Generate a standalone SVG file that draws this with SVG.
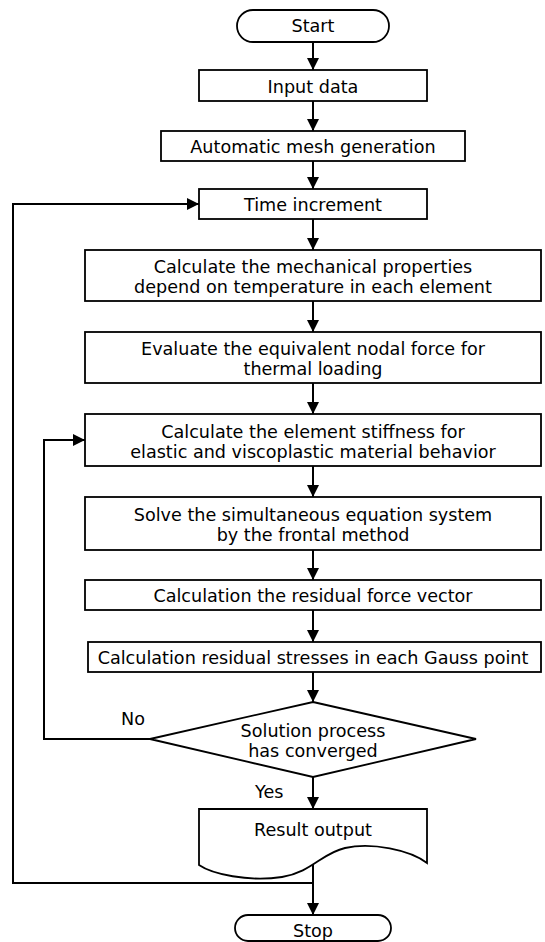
<svg xmlns="http://www.w3.org/2000/svg" width="545" height="942" viewBox="0 0 545 942">
<style>
.n{fill:#fff;stroke:#000;stroke-width:1.8}
.t{font-family:"DejaVu Sans","Liberation Sans",sans-serif;font-size:17.6px;fill:#000;text-anchor:middle}
.l{font-family:"DejaVu Sans","Liberation Sans",sans-serif;font-size:17.6px;fill:#000}
.c{fill:none;stroke:#000;stroke-width:2}
</style>
<defs>
<marker id="ah" markerUnits="userSpaceOnUse" markerWidth="12" markerHeight="12" refX="12" refY="6" orient="auto">
<path d="M0,0 L12,6 L0,12 z" fill="#000"/>
</marker>
</defs>
<rect width="545" height="942" fill="#fff"/>
<g id="connectors">
<line class="c" x1="313" y1="42" x2="313" y2="70" marker-end="url(#ah)"/>
<line class="c" x1="313" y1="101" x2="313" y2="131" marker-end="url(#ah)"/>
<line class="c" x1="313" y1="161" x2="313" y2="189" marker-end="url(#ah)"/>
<line class="c" x1="313" y1="219" x2="313" y2="250" marker-end="url(#ah)"/>
<line class="c" x1="313" y1="301" x2="313" y2="332" marker-end="url(#ah)"/>
<line class="c" x1="313" y1="383" x2="313" y2="414" marker-end="url(#ah)"/>
<line class="c" x1="313" y1="466" x2="313" y2="497" marker-end="url(#ah)"/>
<line class="c" x1="313" y1="550" x2="313" y2="580" marker-end="url(#ah)"/>
<line class="c" x1="313" y1="610" x2="313" y2="642" marker-end="url(#ah)"/>
<line class="c" x1="313" y1="672" x2="313" y2="702" marker-end="url(#ah)"/>
<line class="c" x1="313" y1="777" x2="313" y2="809" marker-end="url(#ah)"/>
<polyline class="c" points="150,739 44,739 44,440 85,440" marker-end="url(#ah)"/>
<line class="c" x1="313" y1="862" x2="313" y2="915" marker-end="url(#ah)"/>
<polyline class="c" points="313,883 13,883 13,204 199,204" marker-end="url(#ah)"/>
<text class="l" x="121" y="725">No</text>
<text class="l" x="255" y="798">Yes</text>
</g>
<g id="start">
<rect class="n" x="237" y="10" width="152" height="32" rx="16"/>
<text class="t" x="313" y="32">Start</text>
</g>
<g id="input">
<rect class="n" x="199" y="70" width="228" height="31"/>
<text class="t" x="313" y="93">Input data</text>
</g>
<g id="mesh">
<rect class="n" x="161" y="131" width="304" height="30"/>
<text class="t" x="313" y="153">Automatic mesh generation</text>
</g>
<g id="time">
<rect class="n" x="199" y="189" width="228" height="30"/>
<text class="t" x="313" y="211">Time increment</text>
</g>
<g id="mech">
<rect class="n" x="85" y="250" width="456" height="51"/>
<text class="t" x="313" y="273">Calculate the mechanical properties</text>
<text class="t" x="313" y="293">depend on temperature in each element</text>
</g>
<g id="nodal">
<rect class="n" x="85" y="332" width="456" height="51"/>
<text class="t" x="313" y="355">Evaluate the equivalent nodal force for</text>
<text class="t" x="313" y="375">thermal loading</text>
</g>
<g id="stiffness">
<rect class="n" x="85" y="414" width="456" height="52"/>
<text class="t" x="313" y="438">Calculate the element stiffness for</text>
<text class="t" x="313" y="458">elastic and viscoplastic material behavior</text>
</g>
<g id="solve">
<rect class="n" x="85" y="497" width="456" height="53"/>
<text class="t" x="313" y="521">Solve the simultaneous equation system</text>
<text class="t" x="313" y="541">by the frontal method</text>
</g>
<g id="residual">
<rect class="n" x="85" y="580" width="456" height="30"/>
<text class="t" x="313" y="602">Calculation the residual force vector</text>
</g>
<g id="gauss">
<rect class="n" x="88" y="642" width="453" height="30"/>
<text class="t" x="313" y="664">Calculation residual stresses in each Gauss point</text>
</g>
<g id="decision">
<polygon class="n" points="313,702 476,739 313,777 150,739"/>
<text class="t" x="313" y="737">Solution process</text>
<text class="t" x="313" y="757">has converged</text>
</g>
<g id="output">
<path class="n" d="M199,809 H427 V863 C410,850 372,842 345,848 C322,853 312,872 282,877 C248,882 212,874 199,865 Z"/>
<text class="t" x="313" y="836">Result output</text>
</g>
<g id="stop">
<rect class="n" x="235" y="915" width="156" height="26" rx="13"/>
<text class="t" x="313" y="937">Stop</text>
</g>
</svg>
